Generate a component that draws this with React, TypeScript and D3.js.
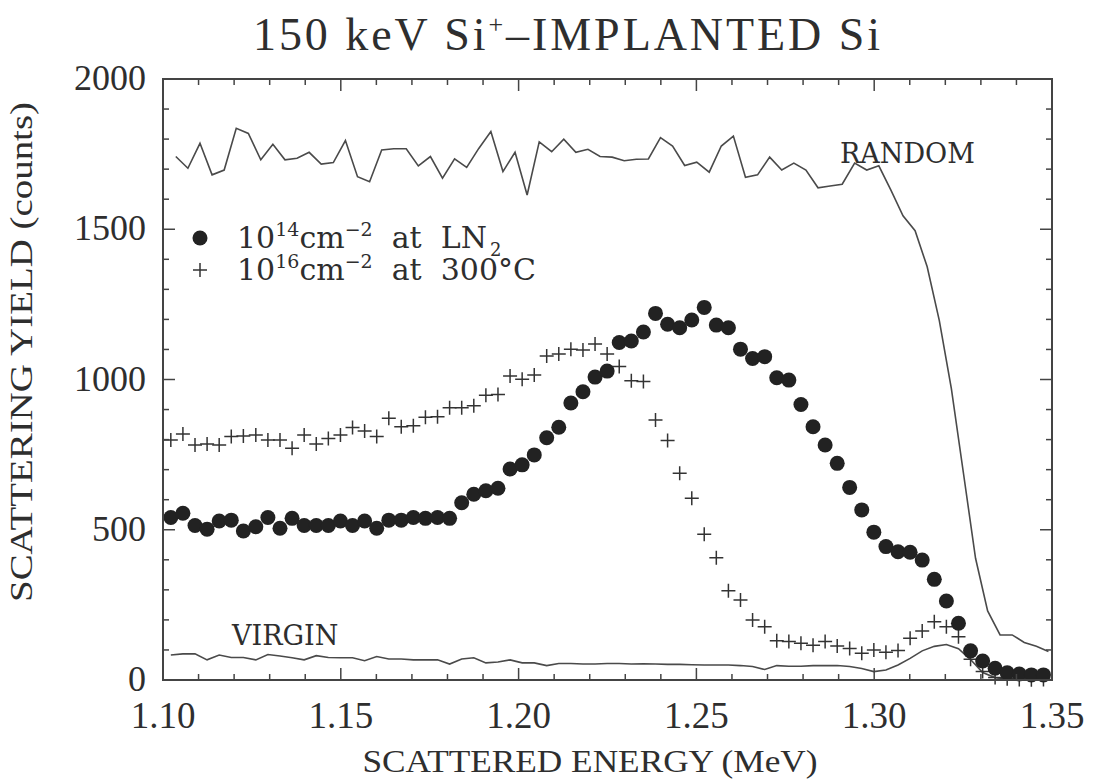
import React from "react";
import * as d3 from "d3";

// Channel energies (MeV) — one per detector channel
const energies: number[] = [
  1.1022, 1.1056, 1.109, 1.1124, 1.1158, 1.1192, 1.1226, 1.1261, 1.1295, 1.1329,
  1.1363, 1.1397, 1.1431, 1.1465, 1.1499, 1.1533, 1.1567, 1.1601, 1.1635, 1.167,
  1.1704, 1.1738, 1.1772, 1.1806, 1.184, 1.1874, 1.1908, 1.1942, 1.1976, 1.201,
  1.2044, 1.2079, 1.2113, 1.2147, 1.2181, 1.2215, 1.2249, 1.2283, 1.2317, 1.2351,
  1.2385, 1.2419, 1.2453, 1.2487, 1.2522, 1.2556, 1.259, 1.2624, 1.2658, 1.2692,
  1.2726, 1.276, 1.2794, 1.2828, 1.2862, 1.2896, 1.2931, 1.2965, 1.2999, 1.3033,
  1.3067, 1.3101, 1.3135, 1.3169, 1.3203, 1.3237, 1.3271, 1.3305, 1.334, 1.3374,
  1.3408, 1.3442, 1.3476,
];

// 10^14 cm^-2 at LN2 (filled circles)
const lowDose: number[] = [
  541, 555, 514, 502, 529, 532, 496, 510, 541, 505,
  538, 514, 514, 514, 529, 514, 529, 505, 532, 532,
  541, 538, 541, 538, 590, 618, 630, 638, 702, 716,
  749, 806, 841, 922, 959, 1008, 1028, 1123, 1128, 1158,
  1220, 1184, 1172, 1198, 1240, 1181, 1172, 1101, 1070, 1076,
  1006, 998, 917, 843, 782, 721, 641, 566, 492, 444,
  427, 425, 399, 335, 263, 189, 97, 63, 39, 24,
  20, 17, 17,
];

// 10^16 cm^-2 at 300°C (crosses)
const highDose: number[] = [
  799, 819, 782, 785, 782, 810, 812, 815, 799, 799,
  771, 815, 785, 804, 815, 840, 829, 810, 871, 843,
  846, 874, 876, 906, 906, 913, 948, 950, 1012, 1001,
  1015, 1078, 1085, 1101, 1098, 1118, 1085, 1043, 996, 993,
  865, 797, 688, 605, 485, 407, 297, 266, 200, 177,
  131, 128, 122, 116, 128, 113, 105, 89, 100, 92,
  98, 139, 163, 194, 177, 144, 69, 28, 8, 4,
  2, 1, 2,
];

// Random spectrum
const randomYield: number[] = [
  1742, 1703, 1786, 1681, 1697, 1836, 1819, 1731, 1783, 1731,
  1736, 1756, 1717, 1722, 1795, 1675, 1658, 1764, 1768, 1768,
  1711, 1742, 1670, 1734, 1706, 1769, 1825, 1692, 1756, 1614,
  1791, 1758, 1800, 1756, 1766, 1742, 1740, 1728, 1733, 1734,
  1805, 1777, 1712, 1723, 1690, 1777, 1810, 1673, 1681, 1740,
  1697, 1720, 1697, 1638, 1644, 1650, 1720, 1697, 1711, 1630,
  1545, 1495, 1375, 1197, 970, 688, 405, 230, 150, 150,
  125, 112, 95,
];
const RANDOM_SHIFT = 0.0014;

// Virgin (aligned) spectrum
const virginYield: number[] = [
  83, 87, 87, 67, 83, 75, 75, 67, 85, 80,
  74, 67, 81, 75, 74, 74, 64, 78, 70, 70,
  67, 67, 67, 53, 70, 74, 57, 60, 67, 57,
  57, 48, 55, 55, 53, 53, 55, 55, 53, 54,
  53, 52, 52, 51, 50, 50, 50, 48, 45, 35,
  48, 46, 46, 48, 48, 48, 45, 38, 28, 33,
  50, 72, 97, 112, 118, 104, 68, 25, 8, 3,
  1, 0, 0,
];

const xTickLabels = ["1.10", "1.15", "1.20", "1.25", "1.30", "1.35"];
const yTickLabels = ["0", "500", "1000", "1500", "2000"];

const W = 1093;
const H = 783;
const SERIF = "'Liberation Serif', serif";
const WIDE_SERIF = "'DejaVu Serif', serif";
const INK = "#2e2e2e";
const LINE = "#4a4a4a";

export default function App() {
  const x = d3.scaleLinear().domain([1.1, 1.35]).range([163, 1052]);
  const y = d3.scaleLinear().domain([0, 2000]).range([680, 79]);

  const xMinor = d3.range(0, 26).map((i) => 1.1 + i * 0.01);
  const yMinor = d3.range(0, 21).map((i) => i * 100);

  const lineGen = d3
    .line<[number, number]>()
    .x((d) => x(d[0]))
    .y((d) => y(d[1]));

  const randomPath = lineGen(
    energies.map((e, i) => [e + RANDOM_SHIFT, randomYield[i]] as [number, number])
  );
  const virginPath = lineGen(
    energies.map((e, i) => [e, virginYield[i]] as [number, number])
  );

  const [x0, x1] = x.range();
  const [y0, y1] = y.range();

  return (
    <svg
      width={W}
      height={H}
      style={{ position: "absolute", left: 0, top: 0, background: "#fff" }}
      fontFamily={SERIF}
    >
      <rect x={0} y={0} width={W} height={H} fill="#fff" />

      {/* title */}
      <text
        x={253}
        y={50}
        fontSize={46}
        fill={INK}
        textLength={627}
        lengthAdjust="spacing"
        style={{ whiteSpace: "pre" }}
      >
        <tspan>150 keV Si</tspan>
        <tspan dy={-17} fontSize={26}>+</tspan>
        <tspan dy={17}>–IMPLANTED Si</tspan>
      </text>

      {/* data lines */}
      <path d={randomPath || ""} fill="none" stroke={LINE} strokeWidth={1.6} />
      <path d={virginPath || ""} fill="none" stroke={LINE} strokeWidth={1.6} />

      {/* crosses */}
      {energies.map((e, i) => {
        const cx = x(e);
        const cy = y(highDose[i]);
        return (
          <path
            key={"c" + i}
            d={`M${cx - 7},${cy}H${cx + 7}M${cx},${cy - 7}V${cy + 7}`}
            stroke="#333"
            strokeWidth={1.5}
            fill="none"
          />
        );
      })}

      {/* dots */}
      {energies.map((e, i) => (
        <circle key={"d" + i} cx={x(e)} cy={y(lowDose[i])} r={7.5} fill="#222" />
      ))}

      {/* frame */}
      <rect
        x={x0}
        y={y1}
        width={x1 - x0}
        height={y0 - y1}
        fill="none"
        stroke="#444"
        strokeWidth={2}
      />

      {/* x ticks (inward, top and bottom) */}
      {xMinor.map((v, i) => {
        const major = i % 5 === 0;
        const len = major ? 12 : 6;
        const px = x(v);
        return (
          <g key={"xt" + i} stroke="#444" strokeWidth={1.5}>
            <line x1={px} x2={px} y1={y0} y2={y0 - len} />
            <line x1={px} x2={px} y1={y1} y2={y1 + len} />
          </g>
        );
      })}
      {/* y ticks (inward, left and right) */}
      {yMinor.map((v, i) => {
        const major = i % 5 === 0;
        const len = major ? 12 : 6;
        const py = y(v);
        return (
          <g key={"yt" + i} stroke="#444" strokeWidth={1.5}>
            <line x1={x0} x2={x0 + len} y1={py} y2={py} />
            <line x1={x1} x2={x1 - len} y1={py} y2={py} />
          </g>
        );
      })}

      {/* x tick labels */}
      {xTickLabels.map((t) => (
        <text
          key={"xl" + t}
          x={x(+t)}
          y={728}
          fontSize={37}
          textAnchor="middle"
          fill={INK}
        >
          {t}
        </text>
      ))}
      {/* y tick labels */}
      {yTickLabels.map((t) => (
        <text
          key={"yl" + t}
          x={146}
          y={y(+t) + 11}
          fontSize={36}
          textAnchor="end"
          fill={INK}
        >
          {t}
        </text>
      ))}

      {/* axis titles */}
      <text
        x={590}
        y={772}
        fontSize={32}
        textAnchor="middle"
        fill={INK}
        textLength={455}
        lengthAdjust="spacingAndGlyphs"
      >
        SCATTERED ENERGY (MeV)
      </text>
      <text
        transform="translate(32,352) rotate(-90)"
        fontSize={31}
        textAnchor="middle"
        fill={INK}
        textLength={500}
        lengthAdjust="spacingAndGlyphs"
      >
        SCATTERING YIELD (counts)
      </text>

      {/* curve annotations */}
      <text x={840} y={163} fontSize={27} fill={INK} fontFamily={WIDE_SERIF}>
        RANDOM
      </text>
      <text x={232} y={645} fontSize={27} fill={INK} fontFamily={WIDE_SERIF}>
        VIRGIN
      </text>

      {/* legend */}
      <circle cx={200} cy={238} r={7.5} fill="#222" />
      <text
        x={237}
        y={248}
        fontSize={30}
        fill={INK}
        fontFamily={WIDE_SERIF}
        style={{ whiteSpace: "pre" }}
      >
        <tspan>10</tspan>
        <tspan dy={-12} fontSize={19}>14</tspan>
        <tspan dy={12}>cm</tspan>
        <tspan dy={-12} fontSize={19}>−2</tspan>
        <tspan dy={12}>  at  LN</tspan>
        <tspan dx={3} dy={8} fontSize={18}>2</tspan>
      </text>
      <path d="M193,270H207M200,263V277" stroke="#333" strokeWidth={1.5} />
      <text
        x={237}
        y={280}
        fontSize={30}
        fill={INK}
        fontFamily={WIDE_SERIF}
        style={{ whiteSpace: "pre" }}
      >
        <tspan>10</tspan>
        <tspan dy={-12} fontSize={19}>16</tspan>
        <tspan dy={12}>cm</tspan>
        <tspan dy={-12} fontSize={19}>−2</tspan>
        <tspan dy={12}>  at  300°C</tspan>
      </text>
    </svg>
  );
}
